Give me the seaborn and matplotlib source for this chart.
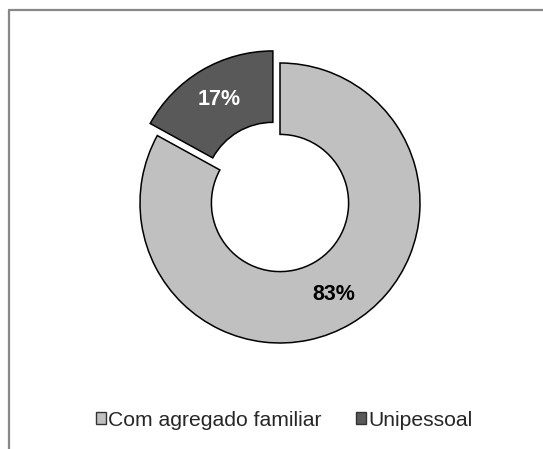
import matplotlib
matplotlib.use("Agg")
import matplotlib.pyplot as plt
from matplotlib.patches import Patch
from matplotlib.lines import Line2D
import numpy as np
import seaborn as sns

categories = ["Com agregado familiar", "Unipessoal"]
values = [83, 17]
labels = ["83%", "17%"]
colors = ["#c0c0c0", "#595959"]
label_colors = ["black", "white"]

sns.set_theme(style="white")
plt.rcParams["font.family"] = ["Liberation Sans", "DejaVu Sans"]

W, H = 543, 449
fig = plt.figure(figsize=(W / 100, H / 100), dpi=100)
fig.patch.set_facecolor("white")

cx, cy, R = 280, 449 - 203, 140
box = 300
ax = fig.add_axes([(cx - box / 2) / W, (cy - box / 2) / H, box / W, box / H])
lim = (box / 2) / R

wedges, _ = ax.pie(values, colors=colors, startangle=90, counterclock=False,
                   explode=[0, 0.1], radius=1,
                   wedgeprops=dict(width=0.51, edgecolor="black", linewidth=1.1))
for w, lab, c in zip(wedges, labels, label_colors):
    ang = np.deg2rad((w.theta1 + w.theta2) / 2)
    cxw, cyw = w.center
    r = 0.76
    ax.text(cxw + r * np.cos(ang), cyw + r * np.sin(ang), lab, ha="center", va="center",
            fontsize=15.5, fontweight="bold", color=c)
ax.set_xlim(-lim, lim)
ax.set_ylim(-lim, lim)
ax.axis("off")

handles = [Patch(facecolor=col, edgecolor="#333333", linewidth=1.0) for col in colors]
fig.legend(handles, categories, loc="center", bbox_to_anchor=(284 / W, 29 / H),
           ncol=2, frameon=False, fontsize=15.2, handlelength=0.5, handleheight=0.5,
           handletextpad=0.1, columnspacing=1.6, borderpad=0)

fig.add_artist(Line2D([8.5 / W, 8.5 / W], [0, (H - 10) / H], color="#888888", lw=1.6))
fig.add_artist(Line2D([8.5 / W, 1], [(H - 10) / H, (H - 10) / H], color="#888888", lw=1.6))

fig.savefig("out.png", dpi=100)
